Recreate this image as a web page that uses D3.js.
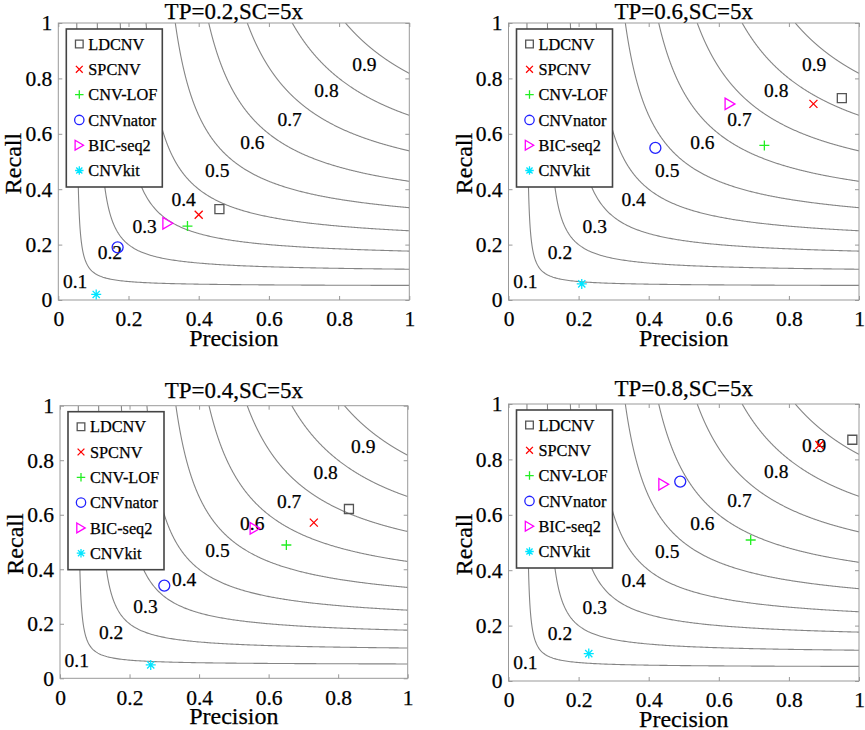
<!DOCTYPE html>
<html>
<head>
<meta charset="utf-8">
<script src="https://cdn.jsdelivr.net/npm/d3@7"></script>
<style>
  body { margin: 0; background: #fff; }
  text { font-family: "Liberation Serif", "Times New Roman", serif; fill: #000; stroke: #000; stroke-width: 0.25px; }
</style>
</head>
<body>
<div id="chart"></div>
<script>
// methods and their marker colours
var methods = ["LDCNV", "SPCNV", "CNV-LOF", "CNVnator", "BIC-seq2", "CNVkit"];
var markers = ["square", "x", "plus", "circle", "triangle", "star"];
var colors = ["#555555", "#ff0000", "#22ee22", "#2222ff", "#ff00ff", "#00e5ff"];

// panel titles, in reading order (TL, TR, BL, BR)
var titles = ["TP=0.2,SC=5x", "TP=0.6,SC=5x", "TP=0.4,SC=5x", "TP=0.8,SC=5x"];

// precision / recall per method, one pair of arrays per panel
var precTP02 = [0.459, 0.400, 0.368, 0.169, 0.312, 0.108];
var recTP02  = [0.328, 0.308, 0.267, 0.190, 0.277, 0.020];
var precTP06 = [0.951, 0.870, 0.730, 0.419, 0.632, 0.209];
var recTP06  = [0.729, 0.708, 0.558, 0.549, 0.708, 0.058];
var precTP04 = [0.831, 0.730, 0.651, 0.300, 0.561, 0.261];
var recTP04  = [0.621, 0.571, 0.489, 0.340, 0.550, 0.049];
var precTP08 = [0.981, 0.887, 0.691, 0.490, 0.443, 0.229];
var recTP08  = [0.871, 0.852, 0.509, 0.720, 0.710, 0.099];

// iso-F1 levels and where their labels sit
var f1Levels = [0.1, 0.2, 0.3, 0.4, 0.5, 0.6, 0.7, 0.8, 0.9];
var labelP = [0.048, 0.147, 0.246, 0.357, 0.453, 0.553, 0.659, 0.764, 0.872];
var labelR = [0.068, 0.171, 0.266, 0.363, 0.470, 0.568, 0.651, 0.757, 0.853];

var ticks = [0, 0.2, 0.4, 0.6, 0.8, 1];
var tickText = ["0", "0.2", "0.4", "0.6", "0.8", "1"];

var panelData = [
  {title: titles[0], P: precTP02, R: recTP02},
  {title: titles[1], P: precTP06, R: recTP06},
  {title: titles[2], P: precTP04, R: recTP04},
  {title: titles[3], P: precTP08, R: recTP08}
];

// plot boxes in page pixels
var boxes = [
  {x0: 58.3, x1: 409.3, y0: 23, y1: 300, tOff: 4},
  {x0: 508.5, x1: 859, y0: 23, y1: 300, tOff: 4},
  {x0: 60, x1: 407.7, y0: 405.7, y1: 678.3, tOff: 8},
  {x0: 508.5, x1: 859, y0: 404, y1: 681, tOff: 8}
];

var svg = d3.select("#chart").append("svg")
    .attr("width", 865)
    .attr("height", 730);

svg.append("rect")
    .attr("width", "100%")
    .attr("height", "100%")
    .attr("fill", "#fff");

// marker path, centred on 0,0
function markerPath(type, s) {
  var p = d3.path();
  if (type == "square") {
    p.rect(-s, -s, 2 * s, 2 * s);
  } else if (type == "x") {
    p.moveTo(-s, -s); p.lineTo(s, s);
    p.moveTo(-s, s); p.lineTo(s, -s);
  } else if (type == "plus") {
    p.moveTo(-s, 0); p.lineTo(s, 0);
    p.moveTo(0, -s); p.lineTo(0, s);
  } else if (type == "circle") {
    p.moveTo(s, 0); p.arc(0, 0, s, 0, 2 * Math.PI);
  } else if (type == "triangle") {
    p.moveTo(-s * 0.85, -s); p.lineTo(s * 0.85, 0); p.lineTo(-s * 0.85, s); p.closePath();
  } else if (type == "star") {
    var d = s * 0.72;
    p.moveTo(-s, 0); p.lineTo(s, 0);
    p.moveTo(0, -s); p.lineTo(0, s);
    p.moveTo(-d, -d); p.lineTo(d, d);
    p.moveTo(-d, d); p.lineTo(d, -d);
  }
  return p.toString();
}
var markerSize = {square: 4.5, x: 4, plus: 5, circle: 5.5, triangle: 5.8, star: 5};

// points on an iso-F1 curve, half sampled then mirrored about P=R
function isoCurve(f) {
  var half = d3.range(0, 201).map(function(i) {
    var p = f + (1 - f) * i / 200;
    return [p, f * p / (2 * p - f)];
  });
  var mirror = half.slice().reverse().map(function(d) { return [d[1], d[0]]; });
  return mirror.concat(half.slice(1));
}

panelData.forEach(function(pd, k) {
  var b = boxes[k];
  var x = d3.scaleLinear().domain([0, 1]).range([b.x0, b.x1]);
  var y = d3.scaleLinear().domain([0, 1]).range([b.y1, b.y0]);
  var g = svg.append("g");

  g.append("clipPath").attr("id", "clip" + k)
    .append("rect")
    .attr("x", b.x0).attr("y", b.y0)
    .attr("width", b.x1 - b.x0).attr("height", b.y1 - b.y0);

  var line = d3.line()
      .x(function(d) { return x(d[0]); })
      .y(function(d) { return y(d[1]); });

  g.append("g").attr("clip-path", "url(#clip" + k + ")")
    .selectAll("path")
    .data(f1Levels)
    .enter()
    .append("path")
    .attr("d", function(f) { return line(isoCurve(f)); })
    .attr("fill", "none")
    .attr("stroke", "#858585")
    .attr("stroke-width", 1.1);

  // axes: inward ticks on all four sides
  var tl = -4;
  g.append("g").attr("transform", "translate(0," + b.y1 + ")")
    .call(d3.axisBottom(x).tickValues(ticks).tickSizeInner(tl).tickSizeOuter(0).tickFormat(function(d, i) { return tickText[i]; }))
    .call(function(a) {
      a.select(".domain").remove();
      a.selectAll("line").attr("stroke", "#999");
      a.selectAll("text").attr("y", 11).attr("dy", "0.71em")
        .style("font-size", "21.5px");
    });
  g.append("g").attr("transform", "translate(0," + b.y0 + ")")
    .call(d3.axisTop(x).tickValues(ticks).tickSizeInner(tl).tickSizeOuter(0).tickFormat(""))
    .call(function(a) { a.select(".domain").remove(); a.selectAll("line").attr("stroke", "#999"); });
  g.append("g").attr("transform", "translate(" + b.x0 + ",0)")
    .call(d3.axisLeft(y).tickValues(ticks).tickSizeInner(tl).tickSizeOuter(0).tickFormat(function(d, i) { return tickText[i]; }))
    .call(function(a) {
      a.select(".domain").remove();
      a.selectAll("line").attr("stroke", "#999");
      a.selectAll("text").attr("x", -6)
        .style("font-size", "21.5px");
    });
  g.append("g").attr("transform", "translate(" + b.x1 + ",0)")
    .call(d3.axisRight(y).tickValues(ticks).tickSizeInner(tl).tickSizeOuter(0).tickFormat(""))
    .call(function(a) { a.select(".domain").remove(); a.selectAll("line").attr("stroke", "#999"); });

  g.append("rect")
    .attr("x", b.x0).attr("y", b.y0)
    .attr("width", b.x1 - b.x0).attr("height", b.y1 - b.y0)
    .attr("fill", "none").attr("stroke", "#999").attr("stroke-width", 1);

  // contour labels
  g.selectAll(".flab")
    .data(f1Levels)
    .enter()
    .append("text")
    .attr("class", "flab")
    .attr("x", function(d, i) { return x(labelP[i]); })
    .attr("y", function(d, i) { return y(labelR[i]); })
    .attr("text-anchor", "middle")
    .attr("dy", "0.35em")
    .style("font-size", "19.5px")
    .text(function(d) { return d; });

  // method points
  g.selectAll(".pt")
    .data(methods)
    .enter()
    .append("path")
    .attr("class", "pt")
    .attr("transform", function(d, i) { return "translate(" + x(pd.P[i]) + "," + y(pd.R[i]) + ")"; })
    .attr("d", function(d, i) { return markerPath(markers[i], markerSize[markers[i]]); })
    .attr("fill", "none")
    .attr("stroke", function(d, i) { return colors[i]; })
    .attr("stroke-width", 1.3);

  // legend
  var lg = g.append("g").attr("transform", "translate(" + (b.x0 + 8) + "," + (b.y0 + 6) + ")");
  lg.append("rect")
    .attr("width", 96).attr("height", 158)
    .attr("fill", "#fff").attr("stroke", "#444").attr("stroke-width", 1.6);
  var rows = lg.selectAll(".row")
    .data(methods)
    .enter()
    .append("g")
    .attr("transform", function(d, i) { return "translate(13," + (15 + i * 25.3) + ")"; });
  rows.append("path")
    .attr("d", function(d, i) { return markerPath(markers[i], markerSize[markers[i]] * 0.85); })
    .attr("fill", "none")
    .attr("stroke", function(d, i) { return colors[i]; })
    .attr("stroke-width", 1.3);
  rows.append("text")
    .attr("x", 9)
    .attr("dy", "0.35em")
    .style("font-size", "16.3px")
    .text(function(d) { return d; });

  // titles
  g.append("text")
    .attr("x", (b.x0 + b.x1) / 2)
    .attr("y", b.y0 - b.tOff)
    .attr("text-anchor", "middle")
    .style("font-size", "23px")
    .text(pd.title);
  g.append("text")
    .attr("x", (b.x0 + b.x1) / 2)
    .attr("y", b.y1 + 46)
    .attr("text-anchor", "middle")
    .style("font-size", "24px")
    .text("Precision");
  g.append("text")
    .attr("transform", "translate(" + (b.x0 - 37) + "," + ((b.y0 + b.y1) / 2 + 2) + ") rotate(-90)")
    .attr("text-anchor", "middle")
    .style("font-size", "24px")
    .text("Recall");
});
</script>
</body>
</html>
